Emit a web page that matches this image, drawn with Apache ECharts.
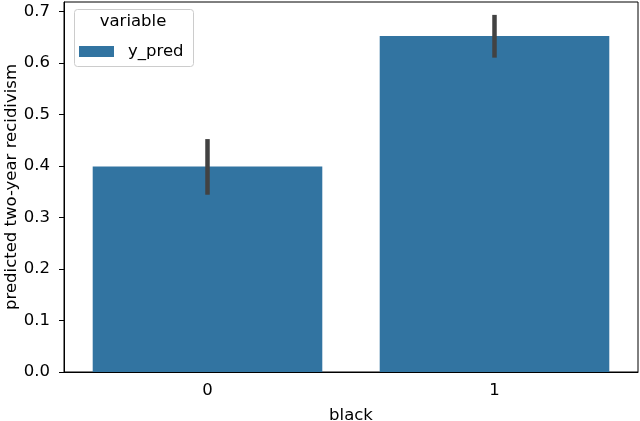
<!DOCTYPE html>
<html>
<head>
<meta charset="utf-8">
<script src="https://cdn.jsdelivr.net/npm/echarts@6/dist/echarts.min.js"></script>
<style>
html,body{margin:0;padding:0;background:#fff;}
#chart{width:640px;height:421px;}
</style>
</head>
<body>
<div id="chart"></div>
<script>
const categories = ['0', '1'];
const yPred = [0.399, 0.652];
const ciLow = [0.344, 0.610];
const ciHigh = [0.452, 0.693];
const yTicks = [0, 0.1, 0.2, 0.3, 0.4, 0.5, 0.6, 0.7];

const FONT = 'DejaVu Sans';
const FS = 16.5;
const chart = echarts.init(document.getElementById('chart'), null, {renderer: 'canvas'});

const errData = categories.map((c, i) => [i, ciLow[i], ciHigh[i]]);

chart.setOption({
  animation: false,
  backgroundColor: '#ffffff',
  grid: {left: 64, right: 2, top: 2, bottom: 49, outerBoundsMode: 'none', containLabel: false,
         show: true, borderColor: '#000', borderWidth: 1, backgroundColor: 'transparent'},
  legend: {
    data: ['y_pred'],
    left: 79, top: 43,
    padding: 0,
    itemWidth: 35, itemHeight: 11,
    icon: 'rect',
    textStyle: {fontFamily: FONT, fontSize: FS, color: '#000', padding: [0, 0, 0, 9]}
  },
  graphic: [
    {type: 'rect', left: 74, top: 9, z: 1, shape: {width: 119, height: 57, r: 3},
     style: {fill: 'rgba(255,255,255,0.8)', stroke: '#cccccc', lineWidth: 1}},
    {type: 'text', x: 133, y: 22, z: 2,
     style: {text: 'variable', font: FS + 'px "DejaVu Sans"', fill: '#000', align: 'center', verticalAlign: 'middle'}}
  ],
  xAxis: {
    type: 'category',
    data: categories,
    name: 'black',
    nameLocation: 'middle',
    nameGap: 35,
    nameMoveOverlap: false,
    nameTextStyle: {fontFamily: FONT, fontSize: FS, color: '#000'},
    axisLine: {lineStyle: {color: '#000', width: 1}},
    axisTick: {alignWithLabel: true, length: 5, lineStyle: {color: '#000'}},
    axisLabel: {fontFamily: FONT, fontSize: FS, color: '#000', margin: 10},
    splitLine: {show: false}
  },
  yAxis: {
    type: 'value',
    min: 0, max: 0.718,
    name: 'predicted two-year recidivism',
    nameLocation: 'middle',
    nameGap: 44,
    nameMoveOverlap: false,
    nameTextStyle: {fontFamily: FONT, fontSize: FS, color: '#000'},
    axisLine: {show: true, lineStyle: {color: '#000', width: 1}},
    axisTick: {show: true, length: 5, lineStyle: {color: '#000'}, customValues: yTicks},
    axisLabel: {fontFamily: FONT, fontSize: FS, color: '#000', margin: 14, customValues: yTicks,
                formatter: v => v.toFixed(1)},
    splitLine: {show: false}
  },
  series: [
    {
      name: 'y_pred',
      type: 'bar',
      data: yPred,
      barCategoryGap: '20%',
      itemStyle: {color: '#3274a1'},
      z: 2
    },
    {
      name: 'ci',
      type: 'custom',
      data: errData,
      z: 5,
      renderItem: function (params, api) {
        const x = api.value(0);
        const p1 = api.coord([x, api.value(1)]);
        const p2 = api.coord([x, api.value(2)]);
        return {
          type: 'line',
          shape: {x1: p1[0], y1: p1[1], x2: p2[0], y2: p2[1]},
          style: {stroke: '#424242', lineWidth: 4.5}
        };
      }
    }
  ]
});
</script>
</body>
</html>
